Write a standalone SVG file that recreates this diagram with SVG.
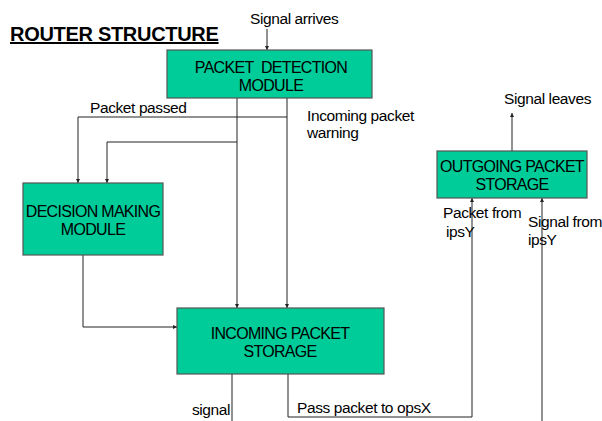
<svg xmlns="http://www.w3.org/2000/svg" width="602" height="421" viewBox="0 0 602 421">
<style>
.box{fill:#00CC99;stroke:#555;stroke-width:1.2}
.bt{font-family:"Liberation Sans",Arial,sans-serif;font-size:16px;letter-spacing:-0.7px;fill:#000;text-anchor:middle}
.lb{font-family:"Liberation Sans",Arial,sans-serif;font-size:15.5px;letter-spacing:-0.4px;fill:#000}
.ln{fill:none;stroke:#222;stroke-width:1}
</style>
<defs>
<marker id="ah" markerWidth="4" markerHeight="4" refX="4" refY="2" orient="auto" markerUnits="userSpaceOnUse">
<path d="M0,0 L4,2 L0,4 Z" fill="#222"/>
</marker>
</defs>
<rect width="602" height="421" fill="#fff"/>
<text x="10" y="41" font-family="'Liberation Sans',Arial,sans-serif" font-size="20" font-weight="bold" letter-spacing="-0.3" text-decoration="underline">ROUTER STRUCTURE</text>
<g id="connectors">
<path class="ln" d="M267,29 V50" marker-end="url(#ah)"/>
<path class="ln" d="M287,98 V117 H78 V183" marker-end="url(#ah)"/>
<path class="ln" d="M237,98 V142 H107 V183" marker-end="url(#ah)"/>
<path class="ln" d="M237,142 V308" marker-end="url(#ah)"/>
<path class="ln" d="M287,117 V308" marker-end="url(#ah)"/>
<path class="ln" d="M83,255 V327 H177" marker-end="url(#ah)"/>
<path class="ln" d="M232,374 V421"/>
<path class="ln" d="M288,374 V417 H472 V198" marker-end="url(#ah)"/>
<path class="ln" d="M542,421 V198" marker-end="url(#ah)"/>
<path class="ln" d="M512,151 V113" marker-end="url(#ah)"/>
<text class="lb" x="250" y="24">Signal arrives</text>
<text class="lb" x="90" y="113">Packet passed</text>
<text class="lb" x="307" y="121">Incoming packet</text>
<text class="lb" x="307" y="138">warning</text>
<text class="lb" x="504" y="104">Signal leaves</text>
<text class="lb" x="443" y="218">Packet from</text>
<text class="lb" x="446" y="237">ipsY</text>
<text class="lb" x="528" y="227">Signal from</text>
<text class="lb" x="528" y="245">ipsY</text>
<text class="lb" x="230" y="415" text-anchor="end">signal</text>
<text class="lb" x="297" y="413">Pass packet to opsX</text>
</g>
<g id="pdm">
<rect class="box" x="167" y="50" width="205" height="48"/>
<text class="bt" x="271" y="73">PACKET&#160; DETECTION</text>
<text class="bt" x="271" y="91">MODULE</text>
</g>
<g id="dmm">
<rect class="box" x="23" y="183" width="140" height="72"/>
<text class="bt" x="93" y="217">DECISION MAKING</text>
<text class="bt" x="93" y="235">MODULE</text>
</g>
<g id="ips">
<rect class="box" x="177" y="308" width="207" height="66"/>
<text class="bt" x="280" y="339">INCOMING PACKET</text>
<text class="bt" x="280" y="357">STORAGE</text>
</g>
<g id="ops">
<rect class="box" x="437" y="151" width="150" height="47"/>
<text class="bt" x="512" y="172">OUTGOING PACKET</text>
<text class="bt" x="512" y="190">STORAGE</text>
</g>
</svg>
